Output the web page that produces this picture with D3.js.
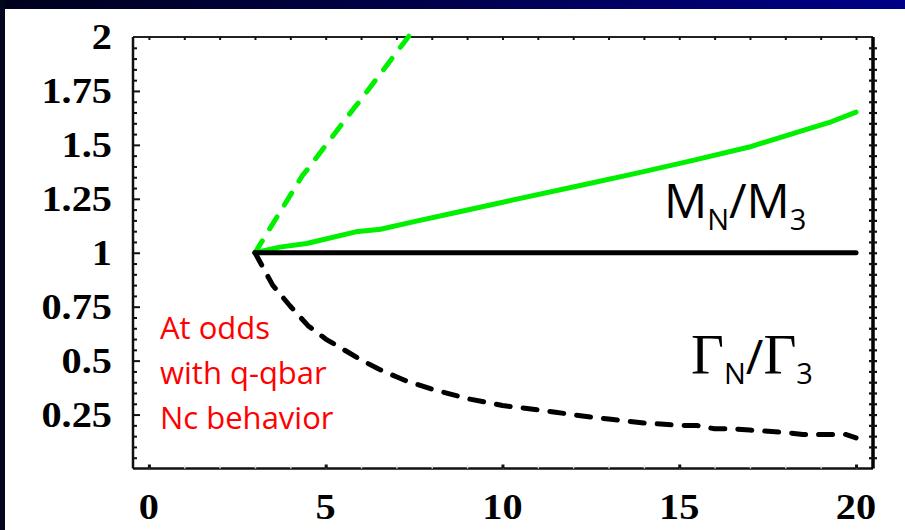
<!DOCTYPE html>
<html>
<head>
<meta charset="utf-8">
<script src="https://cdn.jsdelivr.net/npm/d3@7"></script>
<style>
  html, body { margin: 0; padding: 0; background: #ffffff; }
  svg { display: block; }
</style>
</head>
<body>
<svg id="chart" width="905" height="530"></svg>
<script>
// Axis ticks and labels
const xTickValues = [0, 5, 10, 15, 20];
const xTickLabels = ["0", "5", "10", "15", "20"];
const yTickValues = [0.25, 0.5, 0.75, 1, 1.25, 1.5, 1.75, 2];
const yTickLabels = ["0.25", "0.5", "0.75", "1", "1.25", "1.5", "1.75", "2"];

// M_N / M_3 (constant ratio), black solid
const massNc = [3, 20];
const massRatio = [1, 1];

// Γ_N / Γ_3, black dashed
const widthNc = [3, 3.5, 4, 4.5, 5, 5.5, 6, 6.5, 7, 7.25, 8, 9, 10, 11, 11.5, 12, 13, 14, 15, 15.5, 16, 16.5, 17, 18, 18.5, 19.7, 20];
const widthRatio = [1.0, 0.85, 0.752, 0.662, 0.60, 0.552, 0.503, 0.461, 0.425, 0.408, 0.368, 0.324, 0.292, 0.272, 0.261, 0.249, 0.229, 0.211, 0.200, 0.199, 0.184, 0.184, 0.178, 0.167, 0.158, 0.158, 0.142];

// Mass ratio, q-qbar scaling, green solid
const qqMassNc = [3, 3.7, 4.46, 5.85, 6.55, 7.47, 8.75, 10.14, 12.23, 13.74, 15.36, 16.98, 18.6, 19.3, 20];
const qqMassRatio = [1.0, 1.026, 1.043, 1.097, 1.109, 1.143, 1.189, 1.239, 1.313, 1.367, 1.427, 1.49, 1.572, 1.607, 1.652];

// Width ratio, q-qbar scaling, green dashed
const qqWidthNc = [3, 4.35, 4.5, 5.8, 5.95, 7.38];
const qqWidthRatio = [1.0, 1.36, 1.39, 1.67, 1.70, 2.01];

const svg = d3.select("#chart");
const W = 905, H = 530;

// Slide backdrop: navy band on top and dark strip on the left
const defs = svg.append("defs");
const grad = defs.append("linearGradient").attr("id", "band").attr("x1", "0").attr("x2", "1").attr("y1", "0").attr("y2", "0");
grad.append("stop").attr("offset", "0").attr("stop-color", "#00001c");
grad.append("stop").attr("offset", "0.45").attr("stop-color", "#000048");
grad.append("stop").attr("offset", "1").attr("stop-color", "#000088");
svg.append("rect").attr("x", 0).attr("y", 0).attr("width", W).attr("height", H).attr("fill", "#ffffff");
svg.append("rect").attr("x", 0).attr("y", 0).attr("width", W).attr("height", 9).attr("fill", "url(#band)");
svg.append("rect").attr("x", 0).attr("y", 0).attr("width", 5).attr("height", H).attr("fill", "#03061c");

// Plot frame geometry
const plotLeft = 133, plotRight = 873, plotTop = 37, plotBottom = 468.5;
const x = d3.scaleLinear().domain([-0.45, 20.48]).range([plotLeft, plotRight]);
const y = d3.scaleLinear().domain([0, 2]).range([plotBottom, plotTop]);

const tickColor = "#111111";

// Frame
const frame = svg.append("g");
frame.append("line").attr("x1", plotLeft).attr("x2", plotRight).attr("y1", plotTop).attr("y2", plotTop).attr("stroke", "#222").attr("stroke-width", 2);
frame.append("line").attr("x1", plotLeft).attr("x2", plotRight).attr("y1", plotBottom).attr("y2", plotBottom).attr("stroke", "#111").attr("stroke-width", 2.5);
frame.append("line").attr("x1", plotLeft).attr("x2", plotLeft).attr("y1", plotTop).attr("y2", plotBottom).attr("stroke", "#111").attr("stroke-width", 2.5);
frame.append("line").attr("x1", plotRight).attr("x2", plotRight).attr("y1", plotTop).attr("y2", plotBottom).attr("stroke", "#000").attr("stroke-width", 3.5);

// Minor tick positions (every 0.05 vertically, every unit horizontally)
const yMinor = d3.range(1, 40).map(i => i * 0.05);
const xMinor = d3.range(0, 21);

// Left axis ticks (inward)
const leftAxis = d3.axisLeft(y).tickValues(yMinor).tickSize(-4).tickFormat("");
svg.append("g").attr("transform", `translate(${plotLeft},0)`).call(leftAxis)
  .call(g => g.select(".domain").remove())
  .call(g => g.selectAll("line").attr("stroke", tickColor).attr("stroke-width", 2)
    .attr("x2", d => (Math.abs(d / 0.25 - Math.round(d / 0.25)) < 1e-6) ? 7 : 4));

// Right axis ticks (both sides of the frame)
const rightAxis = d3.axisRight(y).tickValues(yMinor).tickSize(4).tickFormat("");
svg.append("g").attr("transform", `translate(${plotRight},0)`).call(rightAxis)
  .call(g => g.select(".domain").remove())
  .call(g => g.selectAll("line").attr("stroke", tickColor).attr("stroke-width", 2.2).attr("x1", -4).attr("x2", 4));

// Top axis ticks (inward)
const topAxis = d3.axisTop(x).tickValues(xMinor).tickSize(-3).tickFormat("");
svg.append("g").attr("transform", `translate(0,${plotTop})`).call(topAxis)
  .call(g => g.select(".domain").remove())
  .call(g => g.selectAll("line").attr("stroke", tickColor).attr("stroke-width", 2));

// Bottom axis: faint minor ticks, dark major ticks
const bottomMinor = d3.axisBottom(x).tickValues(xMinor).tickSize(-3).tickFormat("");
svg.append("g").attr("transform", `translate(0,${plotBottom})`).call(bottomMinor)
  .call(g => g.select(".domain").remove())
  .call(g => g.selectAll("line").attr("stroke", "#dddddd").attr("stroke-width", 1.5));
const bottomMajor = d3.axisBottom(x).tickValues(xTickValues).tickSize(-4).tickFormat("");
svg.append("g").attr("transform", `translate(0,${plotBottom})`).call(bottomMajor)
  .call(g => g.select(".domain").remove())
  .call(g => g.selectAll("line").attr("stroke", tickColor).attr("stroke-width", 3));

// Tick labels: bold serif, slightly widened
function widen(sel, f) {
  sel.each(function () {
    const w = this.getComputedTextLength();
    d3.select(this).attr("textLength", w * f).attr("lengthAdjust", "spacingAndGlyphs");
  });
}
const labelFont = "'Liberation Serif', 'Times New Roman', serif";
svg.append("g").selectAll("text").data(yTickValues).join("text")
  .attr("x", 112).attr("y", d => y(d) + 12)
  .attr("text-anchor", "end")
  .attr("font-family", labelFont).attr("font-weight", "bold").attr("font-size", 36)
  .attr("fill", "#000")
  .text((d, i) => yTickLabels[i])
  .call(widen, 1.12);

svg.append("g").selectAll("text").data(xTickValues).join("text")
  .attr("x", d => x(d)).attr("y", 519)
  .attr("text-anchor", "middle")
  .attr("font-family", labelFont).attr("font-weight", "bold").attr("font-size", 36)
  .attr("fill", "#000")
  .text((d, i) => xTickLabels[i])
  .call(widen, 1.12);

// Curves
const line = d3.line().x(d => x(d[0])).y(d => y(d[1]));
const pairs = (xs, ys) => xs.map((v, i) => [v, ys[i]]);
const green = "#00f000";

const curves = svg.append("g").attr("fill", "none").attr("stroke-linecap", "round").attr("stroke-linejoin", "round");
curves.append("path").datum(pairs(qqWidthNc, qqWidthRatio)).attr("d", line)
  .attr("stroke", green).attr("stroke-width", 5).attr("stroke-dasharray", "14,14");
curves.append("path").datum(pairs(qqMassNc, qqMassRatio)).attr("d", line)
  .attr("stroke", green).attr("stroke-width", 5);
curves.append("path").datum(pairs(widthNc, widthRatio)).attr("d", line)
  .attr("stroke", "#000000").attr("stroke-width", 5).attr("stroke-dasharray", "14,13");
curves.append("path").datum(pairs(massNc, massRatio)).attr("d", line)
  .attr("stroke", "#000000").attr("stroke-width", 5);

// Curve labels
const sans = "'Open Sans', 'Noto Sans', sans-serif";
const mLabel = svg.append("text").attr("x", 664).attr("y", 218)
  .attr("font-family", sans).attr("font-size", 48).attr("fill", "#000");
mLabel.append("tspan").text("M");
mLabel.append("tspan").attr("font-size", 29).attr("dy", 12).text("N");
mLabel.append("tspan").attr("dy", -12).text("/M");
mLabel.append("tspan").attr("font-size", 29).attr("dy", 12).text("3");

const gLabel = svg.append("text").attr("x", 691).attr("y", 374)
  .attr("font-family", sans).attr("font-size", 48).attr("fill", "#000");
gLabel.append("tspan").attr("font-family", labelFont).attr("font-size", 57).text("Γ");
gLabel.append("tspan").attr("font-size", 29).attr("dy", 10).text("N");
gLabel.append("tspan").attr("dy", -10).text("/");
gLabel.append("tspan").attr("font-family", labelFont).attr("font-size", 57).text("Γ");
gLabel.append("tspan").attr("font-size", 29).attr("dy", 10).text("3");

// Annotation
const note = ["At odds", "with q-qbar", "Nc behavior"];
svg.append("g").selectAll("text").data(note).join("text")
  .attr("x", 160).attr("y", (d, i) => 339 + i * 45)
  .attr("font-family", sans).attr("font-size", 31).attr("fill", "#ff0000")
  .text(d => d);
</script>
</body>
</html>
